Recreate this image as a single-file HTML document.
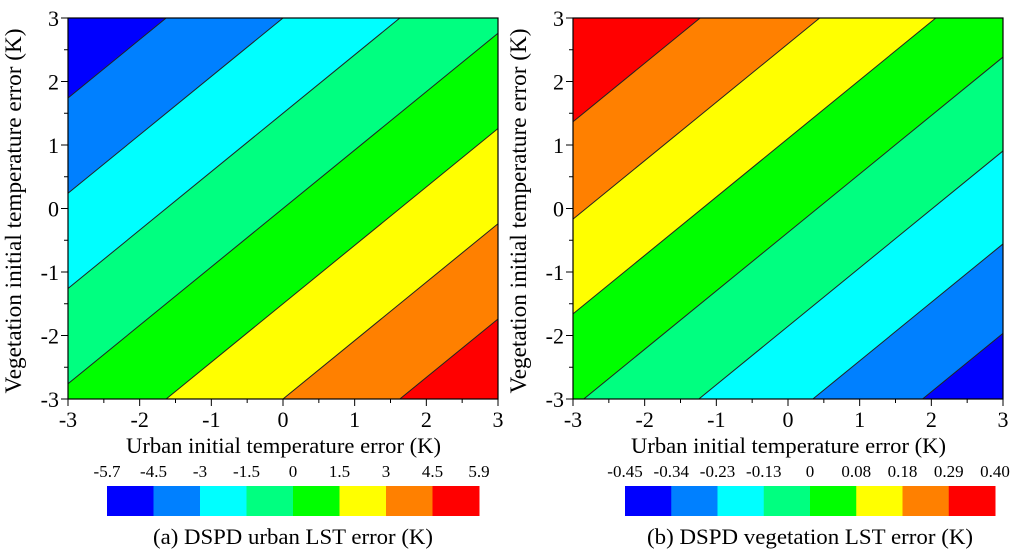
<!DOCTYPE html>
<html><head><meta charset="utf-8"><style>
body{margin:0;background:#fff;width:1024px;height:550px;overflow:hidden}
svg{display:block;font-family:"Liberation Serif",serif}
</style></head><body>
<svg id="fig" width="1024" height="550"></svg>
<script>
// ---- data ----
const colors = ["#0000ff","#0080ff","#00ffff","#00ff80","#00ff00","#ffff00","#ff8000","#ff0000"];
const axisTicks = [-3,-2,-1,0,1,2,3];
// panel a: urban LST error field f = coefA.x * urban + coefA.y * veg + coefA.c
const coefA = {x:0.92, y:-1.0, c:0};
const levelsA = [-4.5,-3,-1.5,0,1.5,3,4.5];
const labelsA = ["-5.7","-4.5","-3","-1.5","0","1.5","3","4.5","5.9"];
// panel b: vegetation LST error field
const coefB = {x:-0.066, y:0.0717, c:0.002};
const levelsB = [-0.337,-0.236,-0.131,-0.025,0.081,0.188,0.298];
const labelsB = ["-0.45","-0.34","-0.23","-0.13","0","0.08","0.18","0.29","0.40"];

const NS="http://www.w3.org/2000/svg";
const svg=document.getElementById('fig');
function mk(tag,attrs,parent){const e=document.createElementNS(NS,tag);for(const k in attrs)e.setAttribute(k,attrs[k]);(parent||svg).appendChild(e);return e;}

function clip(poly,fn){
  const out=[];
  for(let i=0;i<poly.length;i++){
    const p=poly[i],q=poly[(i+1)%poly.length];
    const fp=fn(p),fq=fn(q);
    if(fp>=0)out.push(p);
    if((fp>=0)!==(fq>=0)){const t=fp/(fp-fq);out.push([p[0]+t*(q[0]-p[0]),p[1]+t*(q[1]-p[1])]);}
  }
  return out;
}

function panel(x0,y0,w,h,coef,levels,labels,title,cbx,cbw,id,capLen){
  const g=mk('g',{});
  
  
  const sx=v=>x0+(v+3)/6*w, sy=v=>y0+h-(v+3)/6*h;
  const f=p=>coef.x*p[0]+coef.y*p[1]+coef.c;
  const rect=[[-3,-3],[3,-3],[3,3],[-3,3]];
  const bounds=[-Infinity,...levels,Infinity];
  for(let i=0;i<bounds.length-1;i++){
    let poly=rect;
    const lo=bounds[i],hi=bounds[i+1];
    if(isFinite(lo))poly=clip(poly,p=>f(p)-lo);
    if(isFinite(hi))poly=clip(poly,p=>hi-f(p));
    if(poly.length<3)continue;
    const pg=mk('polygon',{points:poly.map(p=>sx(p[0])+','+sy(p[1])).join(' '),fill:colors[i],stroke:colors[i],'stroke-width':0.5},g);
    
    
  }
  levels.forEach((L,i)=>{
    const pts=[];
    const ed=[[[-3,-3],[3,-3]],[[3,-3],[3,3]],[[3,3],[-3,3]],[[-3,3],[-3,-3]]];
    ed.forEach(([p,q])=>{const fp=f(p)-L,fq=f(q)-L;if((fp>=0)!==(fq>=0)){const t=fp/(fp-fq);pts.push([p[0]+t*(q[0]-p[0]),p[1]+t*(q[1]-p[1])]);}});
    if(pts.length>=2){const ln=mk('line',{x1:sx(pts[0][0]),y1:sy(pts[0][1]),x2:sx(pts[1][0]),y2:sy(pts[1][1]),stroke:'#222','stroke-width':1},g);
      
      }
  });
  const fr=mk('rect',{x:x0,y:y0,width:w,height:h,fill:'none',stroke:'#000','stroke-width':1.2},g);
  
  
  for(let v=-3;v<=3.001;v+=0.5){
    const major=Math.abs(v-Math.round(v))<1e-6, L=major?7:4;
    mk('line',{x1:sx(v),y1:y0+h,x2:sx(v),y2:y0+h+L,stroke:'#000','stroke-width':1},g);
    mk('line',{x1:x0-L,y1:sy(v),x2:x0,y2:sy(v),stroke:'#000','stroke-width':1},g);
  }
  axisTicks.forEach(v=>{
    const t=mk('text',{x:sx(v),y:y0+h+28,'text-anchor':'middle','font-size':22},g);t.textContent=v;
    
    
    const u=mk('text',{x:x0-9,y:sy(v)+8,'text-anchor':'end','font-size':22},g);u.textContent=v;
    
    
  });
  const xt=mk('text',{x:x0+w/2-157,y:453,'font-size':22,textLength:315,lengthAdjust:'spacingAndGlyphs'},g);xt.textContent='Urban initial temperature error (K)';
  
  
  const yt=mk('text',{x:-182,y:0,'font-size':23,textLength:365,lengthAdjust:'spacingAndGlyphs',transform:`translate(${x0-47},${y0+h/2+3}) rotate(-90)`},g);yt.textContent='Vegetation initial temperature error (K)';
  
  
  const bw=cbw/colors.length;
  colors.forEach((c,i)=>{const r=mk('rect',{x:cbx+i*bw,y:486,width:bw+0.5,height:30,fill:c},g);
    
    });
  labels.forEach((s,i)=>{const t=mk('text',{x:cbx+i*bw,y:477,'text-anchor':'middle','font-size':17},g);t.textContent=s;
    
    });
  const tt=mk('text',{x:cbx+cbw/2-capLen/2,y:544,'font-size':22,textLength:capLen,lengthAdjust:'spacingAndGlyphs'},g);tt.textContent=title;
  
  
}
panel(68,18,430,381,coefA,levelsA,labelsA,'(a) DSPD urban LST error (K)',107,372,'urban',280);
panel(573,18,430,381,coefB,levelsB,labelsB,'(b) DSPD vegetation LST error (K)',625,370,'vegetation',326);
</script>
</body></html>
